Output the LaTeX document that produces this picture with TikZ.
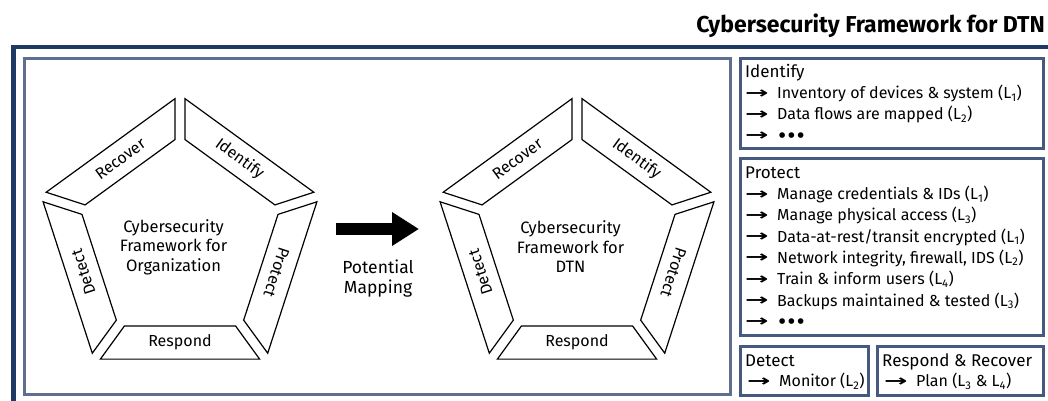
\documentclass[tikz,border=0pt]{standalone}
\usepackage{fontspec}
\setmainfont{Fira Sans}
\newfontfamily\arrowfont{DejaVu Sans}
\usetikzlibrary{arrows.meta,calc}
\definecolor{navy}{HTML}{1F3864}
\definecolor{panelc}{HTML}{5E6F8F}
\definecolor{boxc}{HTML}{465A80}
\newcommand{\itemarrow}{\makebox[32pt][l]{\raisebox{0.5pt}{\scalebox{1.75}[1]{\arrowfont\bfseries →}}}}
\newcommand{\itemdots}{{\arrowfont\bfseries •\kern-1pt•\kern-1pt•}}
\newcommand{\Ls}[1]{(L\textsubscript{#1})}
\begin{document}
\begin{tikzpicture}[x=1pt,y=1pt,
  seg/.style={draw=black,line width=1.2pt,fill=white,line join=miter},
  seglabel/.style={font=\fontsize{16}{18}\selectfont,inner sep=0pt},
  centertext/.style={font=\fontsize{16.5}{19.5}\selectfont,align=center,inner sep=0pt},
  panel/.style={draw=panelc,line width=3pt},
  infobox/.style={draw=boxc,line width=3pt},
  head/.style={font=\fontsize{17}{20}\selectfont,anchor=base west,inner sep=0pt},
  item/.style={font=\fontsize{16}{19}\selectfont,anchor=base west,inner sep=0pt},
  bigarrow/.style={line width=12pt,-{Triangle[length=27pt,width=32pt]}}
]
\useasboundingbox (0,0) rectangle (1048,-401);

% title
\node[font=\fontsize{23}{26}\selectfont\bfseries,anchor=base east,inner sep=0pt] (title) at (1045,-33) {Cybersecurity Framework for DTN};

% outer frame
\coordinate (fA) at (13.5,-401);
\coordinate (fB) at (13.5,-47);
\coordinate (fC) at (1048,-47);
\draw[navy,line width=4.5pt] (fA) -- (fB) -- (fC);

% left panel
\node[panel,minimum width=706pt,minimum height=336pt,inner sep=0pt] (leftpanel) at (377.5,-226.5) {};

% pentagons
\foreach \cx/\pre/\txt in {180/L/{Cybersecurity\\Framework for\\Organization},577/R/{Cybersecurity\\Framework for\\DTN}}{
  \begin{scope}[shift={(\cx,-241)}]
    \foreach \th/\lab/\rot/\nm in {54/Identify/-36/id,126/Recover/36/rc,198/Detect/108/dt,270/Respond/0/rs,342/Protect/-108/pr}{
      \draw[seg,rotate=\th-90] (-79.6,118.1) -- (79.6,118.1) -- (55.6,85) -- (-55.6,85) -- cycle;
      \node[seglabel,rotate=\rot] (\pre-\nm) at (\th:101.5) {\lab};
    }
    \node[centertext] (\pre-center) at (-6.5,-6) {\txt};
  \end{scope}
}

% mapping arrow
\coordinate (arS) at (336,-229);
\coordinate (arE) at (419,-229);
\draw[bigarrow] (arS) -- (arE);
\node[centertext,font=\fontsize{17.5}{19.5}\selectfont] (maplabel) at (378,-278.5) {Potential\\Mapping};

% right boxes
\draw[infobox] (740.5,-58.5) rectangle (1043.5,-148) node[midway,inner sep=0pt] (boxid) {};
\draw[infobox] (740.5,-158.5) rectangle (1043.5,-335.5) node[midway,inner sep=0pt] (boxpr) {};
\draw[infobox] (740.5,-346.5) rectangle (868,-395) node[midway,inner sep=0pt] (boxdt) {};
\draw[infobox] (877,-346.5) rectangle (1043.5,-395) node[midway,inner sep=0pt] (boxrr) {};

% Identify
\node[head] (hid) at (745,-78) {Identify};
\node[item] (id1) at (745,-99) {\itemarrow Inventory of devices \& system \Ls{1}};
\node[item] (id2) at (745,-120) {\itemarrow Data flows are mapped \Ls{2}};
\node[item] (id3) at (745,-141) {\itemarrow \itemdots};

% Protect
\node[head] (hpr) at (745,-178.5) {Protect};
\node[item] (pr1) at (745,-199.5) {\itemarrow Manage credentials \& IDs \Ls{1}};
\node[item] (pr2) at (745,-220.8) {\itemarrow Manage physical access \Ls{3}};
\node[item] (pr3) at (745,-242.1) {\itemarrow Data-at-rest/transit encrypted \Ls{1}};
\node[item] (pr4) at (745,-263.4) {\itemarrow Network integrity, firewall, IDS \Ls{2}};
\node[item] (pr5) at (745,-284.7) {\itemarrow Train \& inform users \Ls{4}};
\node[item] (pr6) at (745,-306) {\itemarrow Backups maintained \& tested \Ls{3}};
\node[item] (pr7) at (745,-327.3) {\itemarrow \itemdots};

% Detect
\node[head] (hdt) at (745,-366.5) {Detect};
\node[item] (dt1) at (747,-386.5) {\itemarrow Monitor \Ls{2}};

% Respond & Recover
\node[head] (hrr) at (882,-366.5) {Respond \& Recover};
\node[item] (rr1) at (884,-386.5) {\itemarrow Plan (L\textsubscript{3} \& L\textsubscript{4})};
\end{tikzpicture}
\end{document}
